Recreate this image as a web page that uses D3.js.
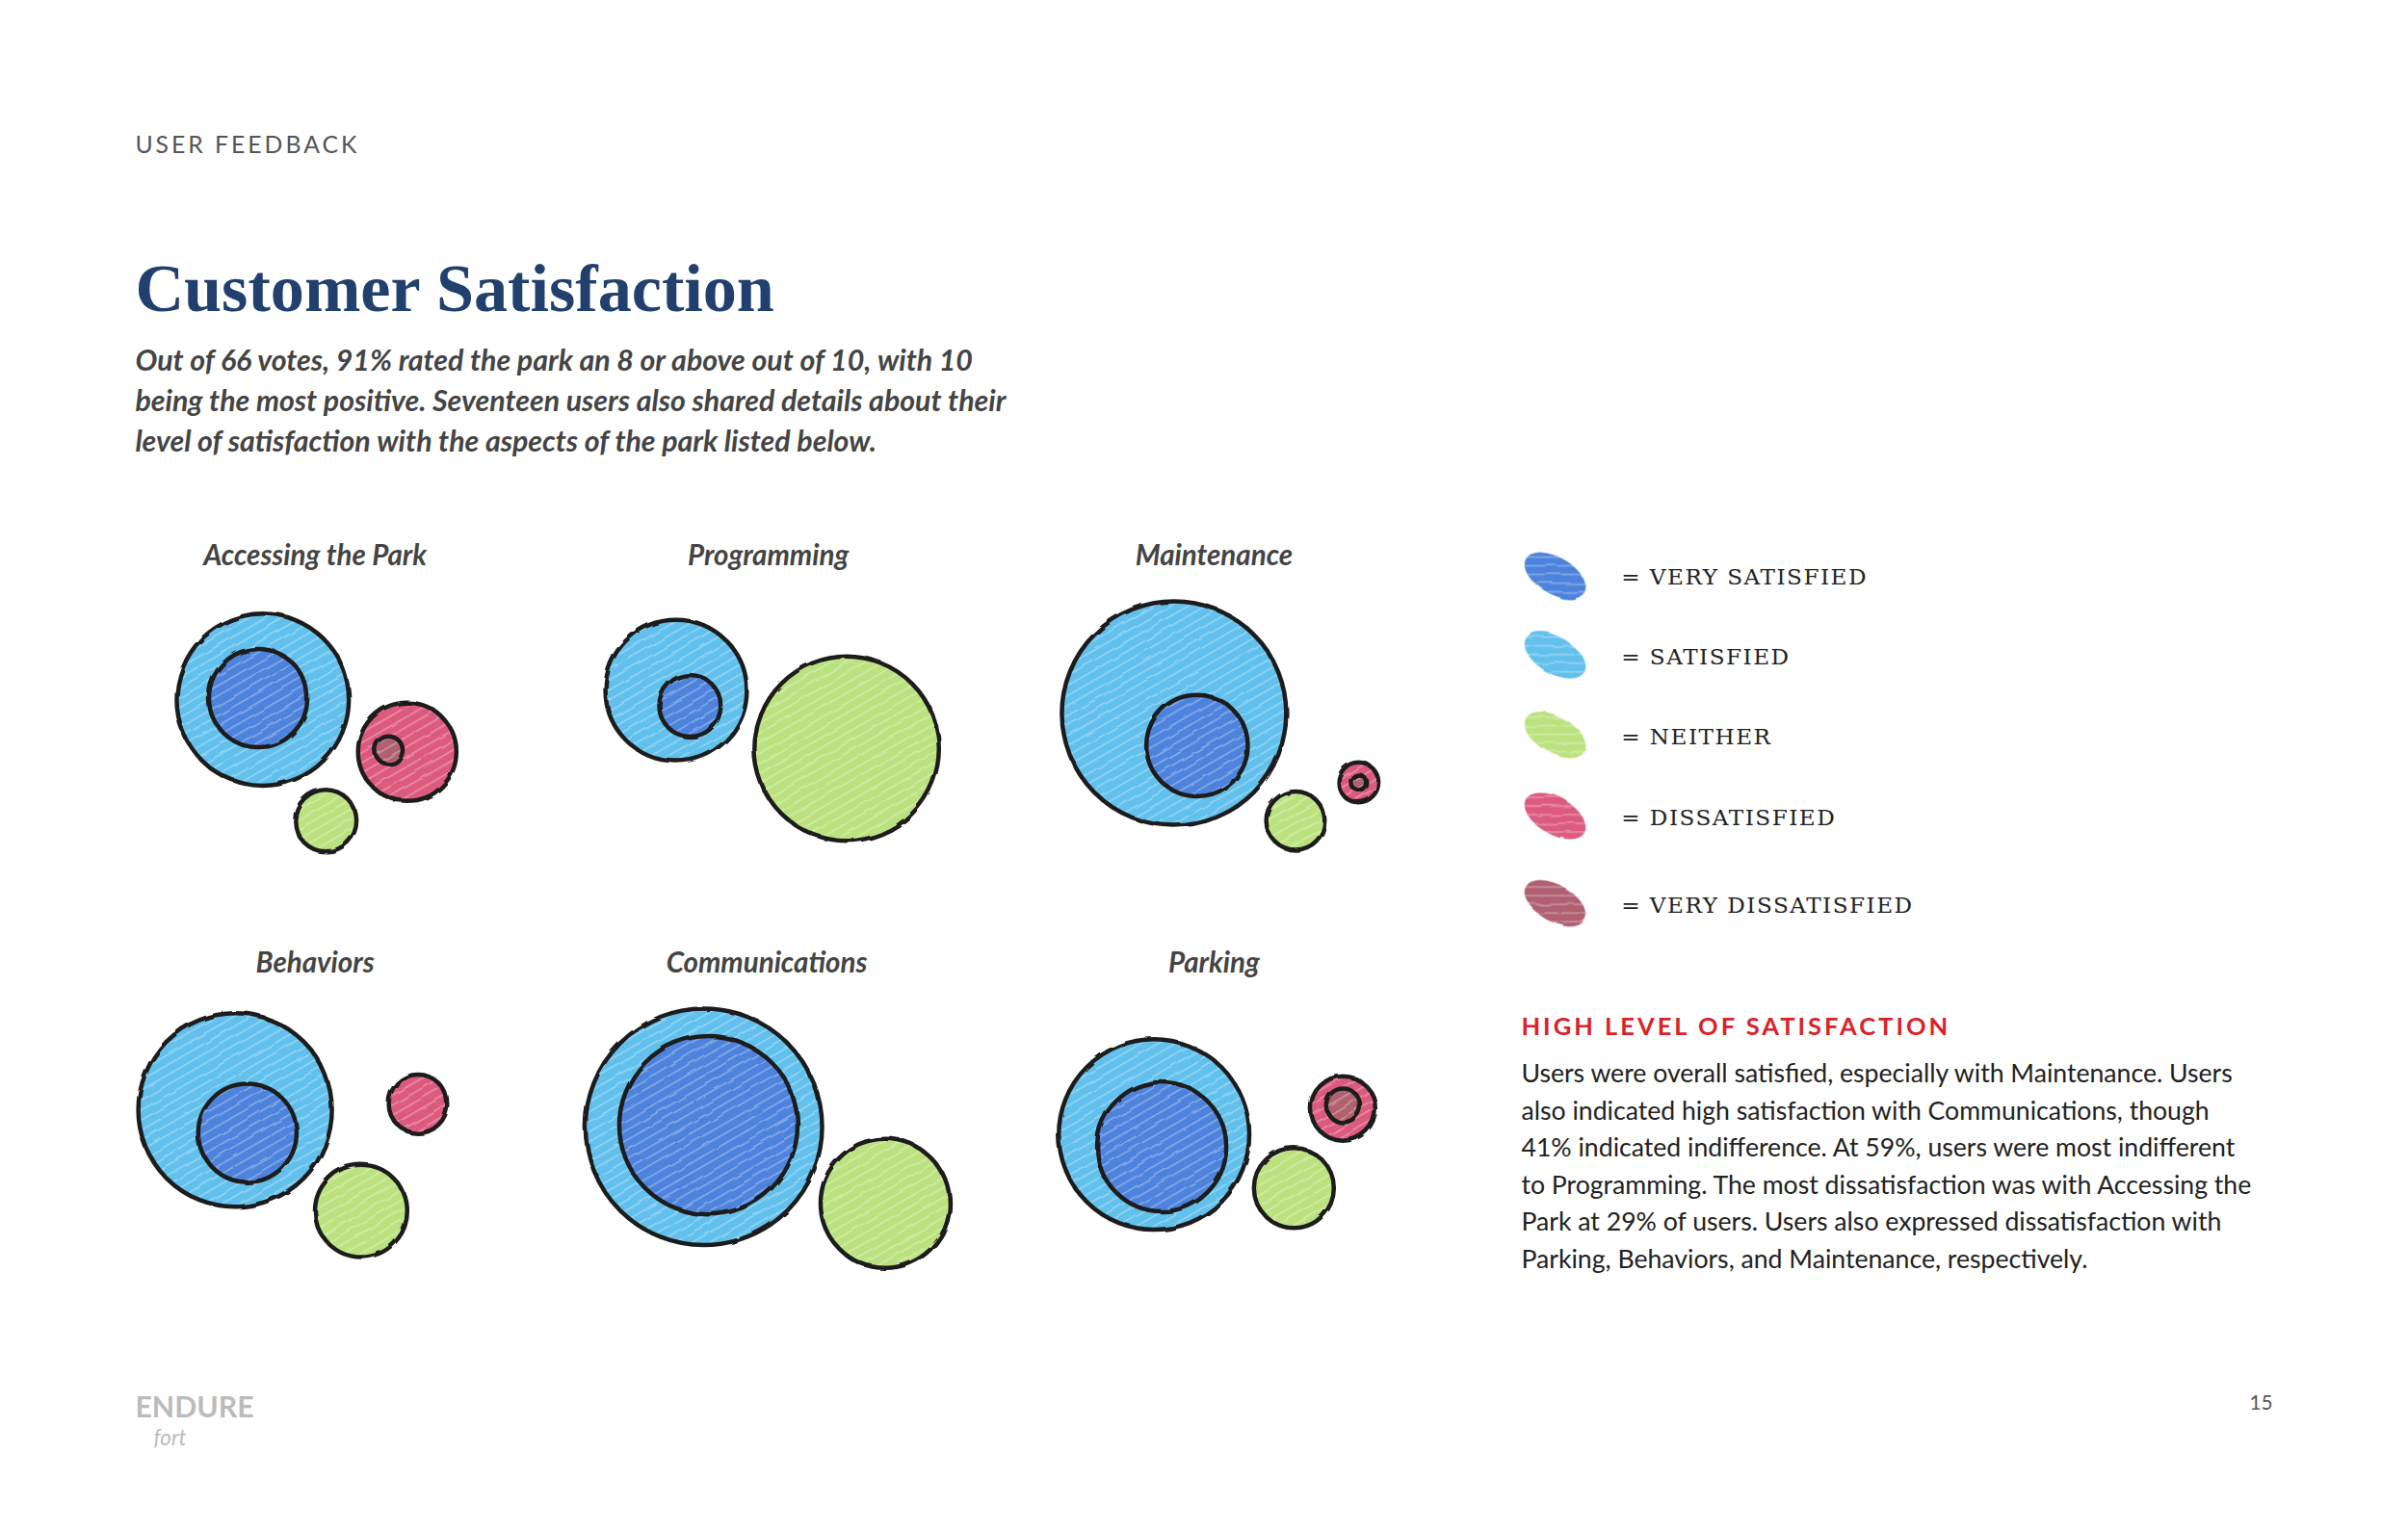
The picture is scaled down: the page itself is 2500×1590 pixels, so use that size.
<!DOCTYPE html>
<html>
<head>
<meta charset="utf-8">
<script src="https://cdn.jsdelivr.net/npm/d3@7"></script>
<style>
  body { margin: 0; background: #fff; }
  text { font-family: Lato, "Open Sans", sans-serif; }
</style>
</head>
<body>
<svg id="chart"></svg>
<script>
document.addEventListener('DOMContentLoaded', () => {
    const W = 2500, H = 1590;
    const k = W / 1567;

    const svg = d3.select("#chart").attr("width", W).attr("height", H);

    // page layout units
    const x = d3.scaleLinear().domain([0, 1567]).range([0, W]);
    const y = d3.scaleLinear().domain([0, 1000]).range([0, H]);
    const fs = v => (v * k) + "px";

    const colors = {
        vs: "#4d83dc",
        s: "#62c0ec",
        n: "#bce27f",
        d: "#dc5a7e",
        vd: "#b0606f"
    };

    // crayon look
    const defs = svg.append("defs");
    const f = defs.append("filter").attr("id", "rough").attr("x", "-10%").attr("y", "-10%").attr("width", "120%").attr("height", "120%");
    f.append("feTurbulence").attr("type", "fractalNoise").attr("baseFrequency", 0.04).attr("numOctaves", 2).attr("result", "noise");
    f.append("feDisplacementMap").attr("in", "SourceGraphic").attr("in2", "noise").attr("scale", 4);

    Object.entries(colors).forEach(([key, c]) => {
        const p = defs.append("pattern").attr("id", "hatch-" + key)
            .attr("patternUnits", "userSpaceOnUse").attr("width", 9).attr("height", 9)
            .attr("patternTransform", "rotate(60)");
        p.append("rect").attr("width", 9).attr("height", 9).attr("fill", c);
        p.append("line").attr("x1", 0).attr("y1", 0).attr("x2", 0).attr("y2", 9)
            .attr("stroke", "#fff").attr("stroke-opacity", 0.35).attr("stroke-width", 3);
    });

    // header
    svg.append("text").attr("x", x(88)).attr("y", y(100))
        .style("font-size", fs(15.5)).style("letter-spacing", "3px").style("fill", "#555")
        .text("USER FEEDBACK");

    svg.append("text").attr("x", x(88)).attr("y", y(203))
        .style("font-family", "'Liberation Serif', 'DejaVu Serif', serif")
        .style("font-weight", "bold")
        .style("font-size", fs(44)).style("fill", "#22406e")
        .text("Customer Satisfaction");

    const sub = [
        "Out of 66 votes, 91% rated the park an 8 or above out of 10, with 10",
        "being the most positive. Seventeen users also shared details about their",
        "level of satisfaction with the aspects of the park listed below."
    ];
    svg.selectAll(".sub").data(sub).enter().append("text")
        .attr("x", x(88)).attr("y", (d, i) => y(242 + i * 26.5))
        .style("font-size", fs(19)).style("font-style", "italic").style("font-weight", "bold")
        .style("fill", "#444").text(d => d);

    // bubble panels: circle offsets / radii in page units relative to each panel title
    const panels = [
        { title: "Accessing the Park", cx: 205, cy: 362, circles: [
            { k: "s", dx: -34, dy: 95, r: 56 },
            { k: "vs", dx: -37, dy: 94, r: 32 },
            { k: "d", dx: 60, dy: 129, r: 32 },
            { k: "vd", dx: 48, dy: 128, r: 9 },
            { k: "n", dx: 7, dy: 174, r: 20 }
        ]},
        { title: "Programming", cx: 500, cy: 362, circles: [
            { k: "s", dx: -60, dy: 89, r: 46 },
            { k: "vs", dx: -51, dy: 99, r: 20 },
            { k: "n", dx: 51, dy: 127, r: 60 }
        ]},
        { title: "Maintenance", cx: 790, cy: 362, circles: [
            { k: "s", dx: -26, dy: 104, r: 73 },
            { k: "vs", dx: -11, dy: 125, r: 33 },
            { k: "n", dx: 53, dy: 174, r: 19 },
            { k: "d", dx: 94, dy: 149, r: 13 },
            { k: "vd", dx: 94, dy: 149, r: 5 }
        ]},
        { title: "Behaviors", cx: 205, cy: 628, circles: [
            { k: "s", dx: -52, dy: 97, r: 63 },
            { k: "vs", dx: -44, dy: 112, r: 32 },
            { k: "d", dx: 67, dy: 93, r: 19 },
            { k: "n", dx: 30, dy: 163, r: 30 }
        ]},
        { title: "Communications", cx: 499, cy: 628, circles: [
            { k: "s", dx: -41, dy: 108, r: 77 },
            { k: "vs", dx: -38, dy: 107, r: 58 },
            { k: "n", dx: 77, dy: 158, r: 42 }
        ]},
        { title: "Parking", cx: 790, cy: 628, circles: [
            { k: "s", dx: -39, dy: 113, r: 62 },
            { k: "vs", dx: -34, dy: 121, r: 42 },
            { k: "d", dx: 84, dy: 96, r: 21 },
            { k: "vd", dx: 84, dy: 94, r: 11 },
            { k: "n", dx: 52, dy: 148, r: 26 }
        ]}
    ];

    panels.forEach(p => {
        svg.append("text").attr("x", x(p.cx)).attr("y", y(p.cy + 7))
            .attr("text-anchor", "middle")
            .style("font-size", fs(18.5)).style("font-style", "italic").style("font-weight", "bold")
            .style("fill", "#444").text(p.title);

        svg.append("g").attr("filter", "url(#rough)")
            .selectAll("circle").data(p.circles).enter().append("circle")
            .attr("cx", d => x(p.cx + d.dx))
            .attr("cy", d => y(p.cy + d.dy))
            .attr("r", d => d.r * k)
            .attr("fill", d => `url(#hatch-${d.k})`)
            .attr("stroke", "#1e1e1e")
            .attr("stroke-width", 4.5);
    });

    // legend
    const legend = [
        { k: "vs", label: "= VERY SATISFIED", y: 376 },
        { k: "s", label: "= SATISFIED", y: 428 },
        { k: "n", label: "= NEITHER", y: 480 },
        { k: "d", label: "= DISSATISFIED", y: 533 },
        { k: "vd", label: "= VERY DISSATISFIED", y: 590 }
    ];
    const lg = svg.append("g");
    lg.selectAll("ellipse").data(legend).enter().append("ellipse")
        .attr("cx", x(1012)).attr("cy", d => y(d.y))
        .attr("rx", 22 * k).attr("ry", 12 * k)
        .attr("transform", d => `rotate(30 ${x(1012)} ${y(d.y)})`)
        .attr("fill", d => `url(#hatch-${d.k})`)
        .attr("filter", "url(#rough)");
    lg.selectAll("text").data(legend).enter().append("text")
        .attr("x", x(1055)).attr("y", d => y(d.y + 6))
        .style("font-family", "'DejaVu Serif', 'Liberation Serif', serif")
        .style("font-size", fs(14.5)).style("letter-spacing", "1.5px").style("fill", "#222")
        .text(d => d.label);

    // commentary
    svg.append("text").attr("x", x(990)).attr("y", y(676))
        .style("font-size", fs(16)).style("font-weight", "bold").style("letter-spacing", "3px")
        .style("fill", "#d8232a").text("HIGH LEVEL OF SATISFACTION");

    const para = [
        "Users were overall satisfied, especially with Maintenance. Users",
        "also indicated high satisfaction with Communications, though",
        "41% indicated indifference. At 59%, users were most indifferent",
        "to Programming. The most dissatisfaction was with Accessing the",
        "Park at 29% of users. Users also expressed dissatisfaction with",
        "Parking, Behaviors, and Maintenance, respectively."
    ];
    svg.selectAll(".para").data(para).enter().append("text")
        .attr("x", x(990)).attr("y", (d, i) => y(707 + i * 24.2))
        .style("font-size", fs(16.7)).style("fill", "#222").text(d => d);

    // footer
    svg.append("text").attr("x", x(1479)).attr("y", y(921)).attr("text-anchor", "end")
        .style("font-size", fs(13)).style("fill", "#555").text("15");
    svg.append("text").attr("x", x(88)).attr("y", y(926))
        .style("font-size", fs(19)).style("font-weight", "bold").style("fill", "#bbb")
        .text("ENDURE");
    svg.append("text").attr("x", x(100)).attr("y", y(944))
        .style("font-size", fs(14)).style("font-style", "italic").style("fill", "#bbb")
        .text("fort");
});
</script>
</body>
</html>
